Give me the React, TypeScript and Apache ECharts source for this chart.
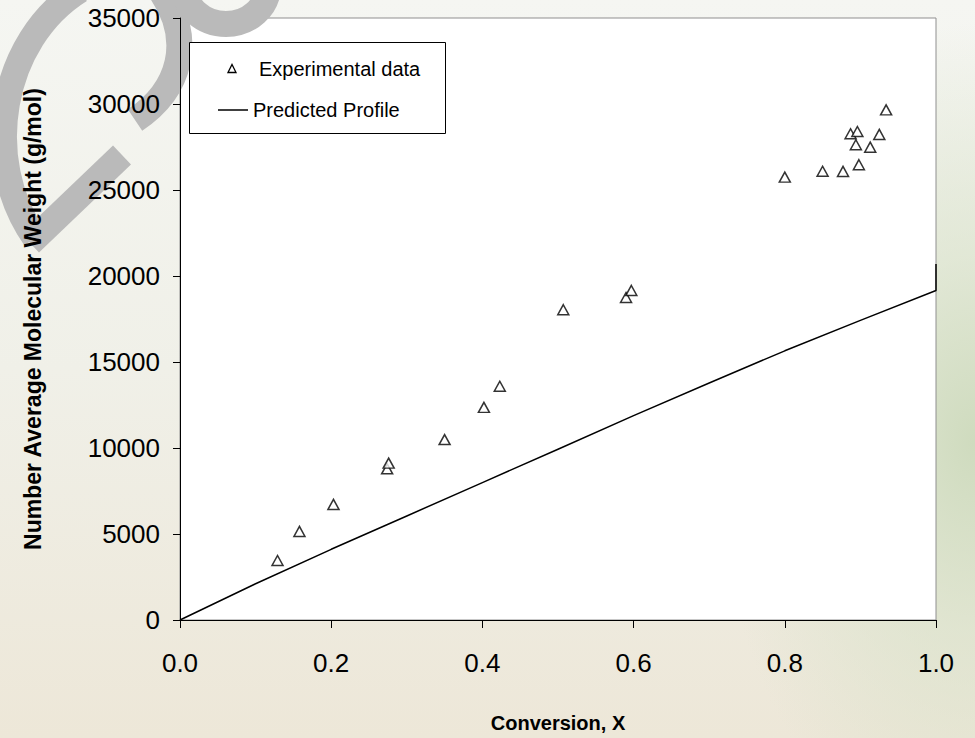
import React, { useEffect, useRef } from "react";
import * as echarts from "echarts";

// Experimental data (conversion X, Mn g/mol)
const expX = [0.129, 0.158, 0.203, 0.274, 0.276, 0.35, 0.402, 0.423, 0.507, 0.59, 0.597, 0.8, 0.85, 0.877, 0.898, 0.887, 0.896, 0.894, 0.913, 0.925, 0.934];
const expY = [3460, 5150, 6720, 8790, 9120, 10490, 12360, 13590, 18040, 18750, 19160, 25750, 26090, 26080, 26470, 28270, 28400, 27630, 27490, 28230, 29660];

// Predicted profile
const predX = [0, 0.1, 0.2, 0.3, 0.4, 0.5, 0.6, 0.7, 0.8, 0.9, 1.0, 1.0];
const predY = [0, 2110, 4110, 6050, 7990, 9930, 11880, 13780, 15650, 17420, 19160, 20700];

const seriesNames = ["Experimental data", "Predicted Profile"];
const xTitle = "Conversion, X";
const yTitle = "Number Average Molecular Weight (g/mol)";

const FONT = "'Liberation Sans', Arial, Helvetica, sans-serif";

const W = 975;
const H = 738;
const GRID = { left: 180, right: 39, top: 18, bottom: 118 };

export default function App() {
  const ref = useRef<HTMLDivElement>(null);
  useEffect(() => {
    if (!ref.current) return;
    const chart = echarts.init(ref.current, null, { renderer: "svg" });
    const wm = "#bababa";
    const wmStyle = { fill: "none", stroke: wm, lineWidth: 26 };
    chart.setOption({
      animation: false,
      backgroundColor: "transparent",
      textStyle: { fontFamily: FONT },
      grid: {
        ...GRID,
        show: true,
        backgroundColor: "#ffffff",
        borderColor: "#8f8f8f",
        borderWidth: 1,
        z: 0,
      },
      legend: { show: false, data: seriesNames },
      graphic: [
        // watermark strokes (above plot background, below axes)
        {
          type: "bezierCurve",
          silent: true,
          z: 1,
          shape: { x1: 80, y1: -10, cpx1: 0, cpy1: 40, cpx2: -20, cpy2: 160, x2: 35, y2: 238 },
          style: wmStyle,
        },
        {
          type: "line",
          silent: true,
          z: 1,
          shape: { x1: 30, y1: 243, x2: 122, y2: 155 },
          style: { stroke: wm, lineWidth: 26 },
        },
        {
          type: "bezierCurve",
          silent: true,
          z: 1,
          shape: { x1: 160, y1: -10, cpx1: 195, cpy1: 40, cpx2: 180, cpy2: 90, x2: 135, y2: 120 },
          style: wmStyle,
        },
        {
          type: "ellipse",
          silent: true,
          z: 1,
          x: 226,
          y: -14,
          shape: { cx: 0, cy: 0, rx: 42, ry: 38 },
          style: wmStyle,
        },
        // legend box
        {
          type: "group",
          z: 10,
          children: [
            {
              type: "rect",
              z: 10,
              shape: { x: 189.5, y: 42.5, width: 256, height: 91 },
              style: { fill: "#ffffff", stroke: "#000000", lineWidth: 1 },
            },
            {
              type: "polygon",
              z: 11,
              shape: { points: [[228, 72.5], [232, 64.5], [236, 72.5]] },
              style: { fill: "#ffffff", stroke: "#000000", lineWidth: 1.3 },
            },
            {
              type: "text",
              z: 11,
              x: 259,
              y: 69,
              style: { text: seriesNames[0], fontFamily: FONT, fontSize: 20, fill: "#000000", verticalAlign: "middle", textAlign: "left" },
            },
            {
              type: "line",
              z: 11,
              shape: { x1: 218, y1: 110, x2: 248, y2: 110 },
              style: { stroke: "#000000", lineWidth: 1.5 },
            },
            {
              type: "text",
              z: 11,
              x: 253,
              y: 110,
              style: { text: seriesNames[1], fontFamily: FONT, fontSize: 20, fill: "#000000", verticalAlign: "middle", textAlign: "left" },
            },
          ],
        },
      ],
      xAxis: {
        type: "value",
        z: 5,
        min: 0,
        max: 1,
        interval: 0.2,
        name: xTitle,
        nameLocation: "middle",
        nameGap: 93,
        nameTextStyle: { fontFamily: FONT, fontSize: 20, fontWeight: "bold", color: "#000" },
        axisLine: { show: true, onZero: false, lineStyle: { color: "#000", width: 1 } },
        axisTick: { show: true, inside: false, length: 8, lineStyle: { color: "#000" } },
        axisLabel: { margin: 30, fontFamily: FONT, fontSize: 26, color: "#000", formatter: (v: number) => v.toFixed(1) },
        splitLine: { show: false },
      },
      yAxis: {
        type: "value",
        z: 5,
        min: 0,
        max: 35000,
        interval: 5000,
        name: yTitle,
        nameLocation: "middle",
        nameGap: 136,
        nameTextStyle: { fontFamily: FONT, fontSize: 23, fontWeight: "bold", color: "#000" },
        axisLine: { show: true, onZero: false, lineStyle: { color: "#000", width: 1 } },
        axisTick: { show: true, inside: false, length: 7, lineStyle: { color: "#000" } },
        axisLabel: { margin: 20, fontFamily: FONT, fontSize: 26, color: "#000", formatter: (v: number) => String(v) },
        splitLine: { show: false },
      },
      series: [
        {
          name: seriesNames[0],
          type: "scatter",
          symbol: "triangle",
          symbolSize: [11, 10],
          itemStyle: { color: "#ffffff", borderColor: "#000000", borderWidth: 1.5 },
          data: expX.map((x, i) => [x, expY[i]]),
          z: 3,
        },
        {
          name: seriesNames[1],
          type: "line",
          symbol: "none",
          showSymbol: false,
          lineStyle: { color: "#000000", width: 1.5 },
          itemStyle: { color: "#000000" },
          data: predX.map((x, i) => [x, predY[i]]),
          z: 2,
        },
      ],
    });
    return () => chart.dispose();
  }, []);
  return (
    <div
      ref={ref}
      style={{
        position: "fixed",
        left: 0,
        top: 0,
        width: W,
        height: H,
        background:
          "radial-gradient(ellipse 260px 420px at 100% 60%, rgba(205,218,188,0.95) 0%, rgba(215,225,200,0.6) 45%, rgba(230,232,215,0) 100%), linear-gradient(180deg, #f5f6f2 0%, #f0f0e8 50%, #ede7d8 100%)",
      }}
    />
  );
}
